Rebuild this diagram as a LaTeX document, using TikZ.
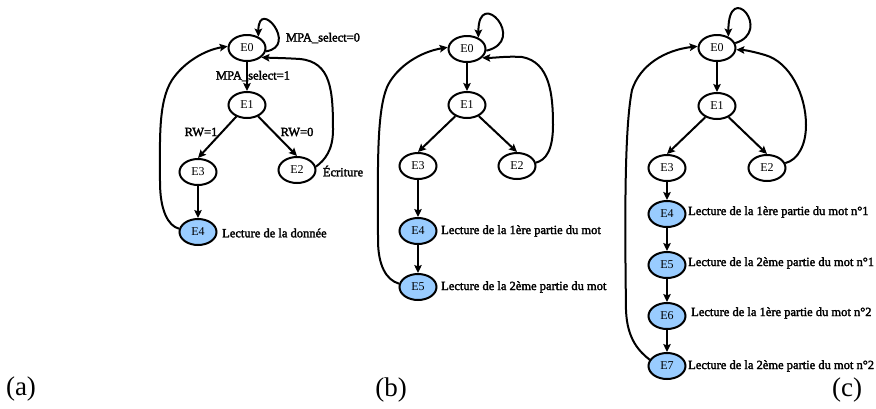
\documentclass[tikz,border=0pt]{standalone}
\usepackage{fontspec}
\setmainfont{Liberation Serif}
\newfontfamily\statefont{Liberation Serif}
\newfontfamily\notefont[FakeBold=2.2]{Liberation Serif}
\newfontfamily\tagfont{Liberation Serif}
\usetikzlibrary{shapes.geometric,arrows.meta}
\definecolor{lblue}{RGB}{153,204,255}

\begin{document}
\begin{tikzpicture}[x=1pt,y=-1pt,
  state/.style={ellipse,draw,line width=2pt,minimum width=37pt,minimum height=26pt,
    inner sep=0pt,font=\statefont\fontsize{12}{13}\selectfont},
  read/.style={state,fill=lblue},
  arr/.style={line width=2pt,-{Stealth[length=8pt,width=7.5pt,inset=1.5pt]}},
  note/.style={font=\notefont\fontsize{12.5}{14}\selectfont,inner sep=0pt},
  tag/.style={font=\tagfont\fontsize{27}{30}\selectfont,inner sep=0pt}]
\useasboundingbox (0,0) rectangle (876,408);

% ---------------- (a) single read ----------------
\node[state] (a0) at (247,48) {E0};
\node[state] (a1) at (247,105) {E1};
\node[state] (a3) at (198,172) {E3};
\node[state] (a2) at (297,170) {E2};
\node[read]  (a4) at (198,232) {E4};

\node[note] (la0) at (323,38) {MPA\_select=0};
\node[note] (la1) at (253,76) {MPA\_select=1};
\node[note] (lrw1) at (201,132) {RW=1};
\node[note] (lrw0) at (297,132) {RW=0};
\node[note] (lwr) at (343,171) {Écriture};
\node[note,anchor=west] (lrd) at (222,233) {Lecture de la donnée};

\draw[arr] (a0) -- (a1);
\draw[arr] (a1) -- (a3.north);
\draw[arr] (a1) -- (a2.north);
\draw[arr] (a3) -- (a4);
\draw[arr] (a0.-10) .. controls +(33,-5) and +(0,-40) .. (a0.45);
\draw[arr] (a4.170) .. controls (168,226) and (160,210) .. (160,182)
  .. controls (160,140) and (158,102) .. (172,80)
  .. controls (184,62) and (205,50) .. (a0.175);
\draw[arr] (a2.10) .. controls (325,160) and (333,150) .. (333,130)
  .. controls (333,90) and (331,62) .. (300,59)
  .. controls (285,58) and (275,58) .. (a0.-33);

% ---------------- (b) two-part read ----------------
\node[state] (b0) at (467,49) {E0};
\node[state] (b1) at (467,105) {E1};
\node[state] (b3) at (418,166) {E3};
\node[state] (b2) at (517,166) {E2};
\node[read]  (b4) at (418,231) {E4};
\node[read]  (b5) at (418,287) {E5};

\node[note,anchor=west] (lb4) at (441,231) {Lecture de la 1ère partie du mot};
\node[note,anchor=west] (lb5) at (441,287) {Lecture de la 2ème partie du mot};

\draw[arr] (b0) -- (b1);
\draw[arr] (b1) -- (b3.north);
\draw[arr] (b1) -- (b2.north);
\draw[arr] (b3) -- (b4);
\draw[arr] (b4) -- (b5);
\draw[arr] (b0.-5) .. controls +(42,-10) and +(0,-52) .. (b0.45);
\draw[arr] (b5.170) .. controls (386,280) and (378,265) .. (378,240)
  .. controls (378,170) and (376,110) .. (388,85)
  .. controls (398,66) and (420,52) .. (b0.175);
\draw[arr] (b2.10) .. controls (546,160) and (553,150) .. (553,125)
  .. controls (553,95) and (550,62) .. (522,57)
  .. controls (505,56) and (495,58) .. (b0.-30);

% ---------------- (c) two words, two parts each ----------------
\node[state] (c0) at (717,48) {E0};
\node[state] (c1) at (717,106) {E1};
\node[state] (c3) at (667,168) {E3};
\node[state] (c2) at (767,168) {E2};
\node[read]  (c4) at (667,214) {E4};
\node[read]  (c5) at (667,265) {E5};
\node[read]  (c6) at (667,316) {E6};
\node[read]  (c7) at (667,366) {E7};

\node[note,anchor=west] (lc4) at (688,212) {Lecture de la 1ère partie du mot n°1};
\node[note,anchor=west] (lc5) at (688,263) {Lecture de la 2ème partie du mot n°1};
\node[note,anchor=west] (lc6) at (691,313) {Lecture de la 1ère partie du mot n°2};
\node[note,anchor=west] (lc7) at (688,366) {Lecture de la 2ème partie du mot n°2};

\draw[arr] (c0) -- (c1);
\draw[arr] (c1) -- (c3.north);
\draw[arr] (c1) -- (c2.north);
\draw[arr] (c3) -- (c4);
\draw[arr] (c4) -- (c5);
\draw[arr] (c5) -- (c6);
\draw[arr] (c6) -- (c7);
\draw[arr] (c0.15) .. controls +(38,-12) and +(0,-58) .. (c0.45);
\draw[arr] (c7.160) .. controls (640,352) and (627,340) .. (626,310)
  .. controls (625,230) and (624,130) .. (632,90)
  .. controls (640,65) and (665,50) .. (c0.175);
\draw[arr] (c2.15) .. controls (798,160) and (806,145) .. (806,125)
  .. controls (806,95) and (790,62) .. (765,55)
  .. controls (755,52) and (745,50) .. (c0.-5);

% ---------------- sub-figure tags ----------------
\node[tag] (ta) at (21,389) {(a)};
\node[tag] (tb) at (391,390) {(b)};
\node[tag] (tc) at (847,390) {(c)};
\end{tikzpicture}
\end{document}
